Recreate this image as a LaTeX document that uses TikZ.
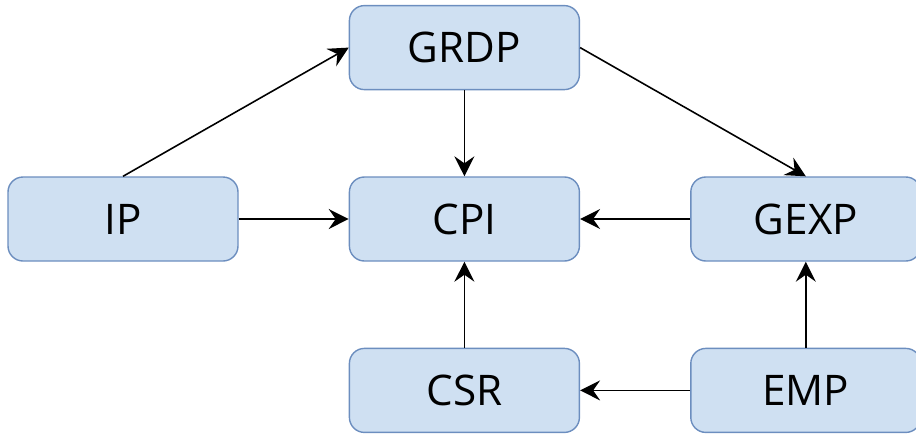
\documentclass[tikz,border=0pt]{standalone}
\usepackage{fontspec}
\setmainfont{Open Sans}
\usepackage{tikz}
\usetikzlibrary{arrows.meta, positioning}
\definecolor{boxfill}{RGB}{207,224,242}
\definecolor{boxline}{RGB}{108,142,191}

\begin{document}
\begin{tikzpicture}[
    node distance=1.72cm and 2.2cm,
    >={Stealth[length=4mm,width=4mm,inset=1.4mm]},
    box/.style={rectangle, rounded corners=0.3cm, draw=boxline, line width=0.8pt, fill=boxfill, minimum width=4.6cm, minimum height=1.68cm, align=center, font=\fontsize{24}{27}\selectfont}
]
    \useasboundingbox (0,0) rectangle (18.32,-8.68);
    \node[box] (ip) at (2.46,-4.38) {IP};
    \node[box, right=of ip] (cpi) {CPI};
    \node[box, above=of cpi] (grdp) {GRDP};
    \node[box, right=of cpi] (gexp) {GEXP};
    \node[box, below=of cpi] (csr) {CSR};
    \node[box, below=of gexp] (emp) {EMP};

    \path[draw, ->, line width=0.9pt] (ip.north) -- (grdp.west);
    \path[draw, ->, line width=0.9pt] (grdp.east) -- (gexp.north);
    \path[draw, ->, line width=0.9pt] (grdp) -- (cpi);
    \path[draw, ->, line width=0.9pt] (ip) -- (cpi);
    \path[draw, ->, line width=0.9pt] (gexp) -- (cpi);
    \path[draw, ->, line width=0.9pt] (csr) -- (cpi);
    \path[draw, ->, line width=0.9pt] (emp) -- (csr);
    \path[draw, ->, line width=0.9pt] (emp) -- (gexp);
\end{tikzpicture}
\end{document}
